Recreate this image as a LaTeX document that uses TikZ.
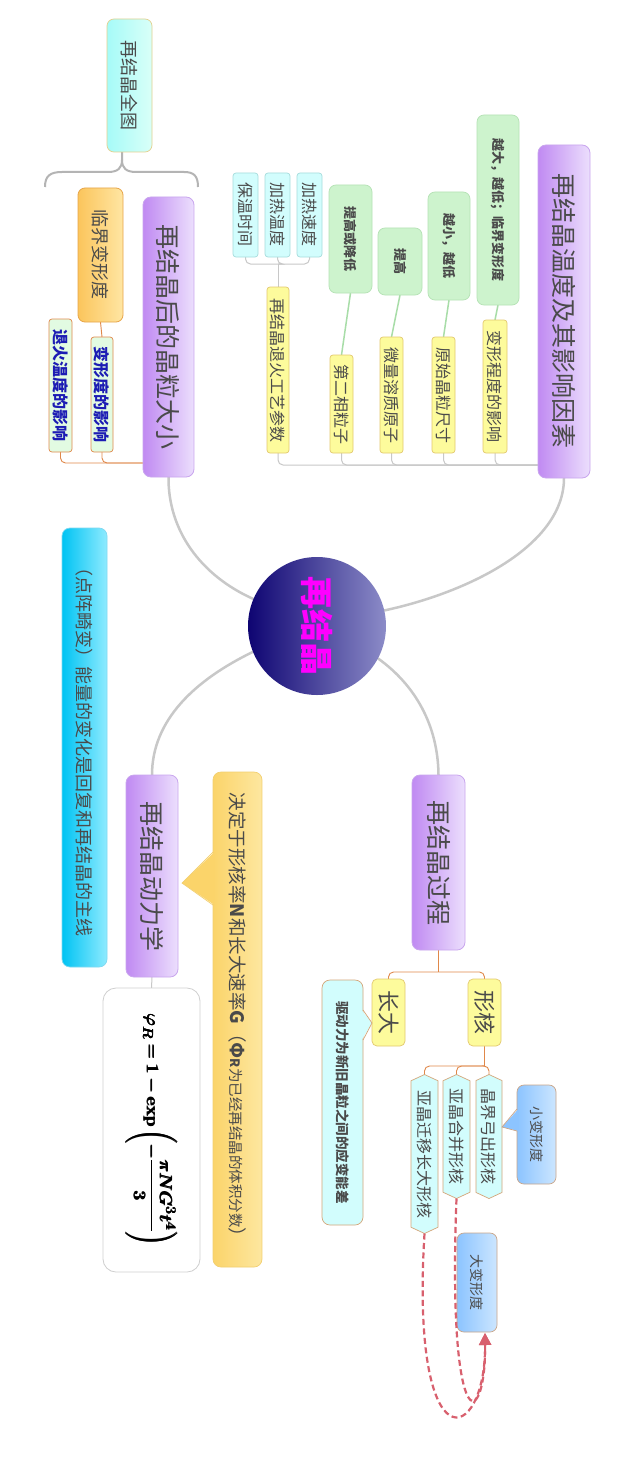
\documentclass[tikz,border=0pt]{standalone}
\usepackage{fontspec}
\setmainfont{Noto Sans CJK SC}
\usepackage{amsmath}
\usepackage{bm}
\usetikzlibrary{shapes.symbols,arrows.meta}
\pgfdeclarelayer{bg}
\pgfsetlayers{bg,main}
\newsavebox{\formbox}
\newcommand{\kctext}{决定于形核率\textbf{N}和长大速率\textbf{G}（\textbf{Φ}{\bfseries\fontsize{13}{15}\selectfont R}{\fontsize{14.5}{17}\selectfont 为已经再结晶的体积分数}）}
\definecolor{navyD}{HTML}{0E0472}
\definecolor{navyM}{HTML}{1A107E}
\definecolor{navyL}{HTML}{8C8CC8}
\definecolor{purpleD}{HTML}{C08AF2}
\definecolor{purpleL}{HTML}{ECDFFD}
\definecolor{purpleB}{HTML}{C9A6EE}
\definecolor{txt}{HTML}{4A4A4A}
\definecolor{yellowF}{HTML}{FDFB9C}
\definecolor{yellowB}{HTML}{E3C96E}
\definecolor{greenF}{HTML}{CDF3CD}
\definecolor{greenB}{HTML}{B5E2B5}
\definecolor{greenLn}{HTML}{A8DDA8}
\definecolor{cyanF}{HTML}{D2FDFD}
\definecolor{cyanB}{HTML}{A6DCDC}
\definecolor{allD}{HTML}{A6FBF8}
\definecolor{allL}{HTML}{D9FFF8}
\definecolor{allB}{HTML}{E3D18F}
\definecolor{orangeD}{HTML}{FBC55C}
\definecolor{orangeL}{HTML}{FFE6A3}
\definecolor{orangeB}{HTML}{E7A54A}
\definecolor{blueTxt}{HTML}{1C1CB4}
\definecolor{paleG}{HTML}{E2FBE2}
\definecolor{hexB}{HTML}{D4A679}
\definecolor{blueD}{HTML}{8CC4FF}
\definecolor{blueL}{HTML}{CCE6FF}
\definecolor{blueB}{HTML}{C9A588}
\definecolor{kcD}{HTML}{FBD46A}
\definecolor{kcL}{HTML}{FDE7A0}
\definecolor{kcB}{HTML}{F2CF70}
\definecolor{noteD}{HTML}{00C3F3}
\definecolor{noteL}{HTML}{8EEBFF}
\definecolor{noteB}{HTML}{7FD8F0}
\definecolor{lineO}{HTML}{E0884A}
\definecolor{lineG}{HTML}{C8C8C8}
\definecolor{braceG}{HTML}{B4B4B4}
\definecolor{formB}{HTML}{CFCFCF}
\definecolor{redD}{HTML}{D8606E}
\definecolor{magentaT}{HTML}{FF00FF}
\begin{document}
\sbox{\formbox}{\fontsize{19}{23}\selectfont$\pmb{\bm{\varphi_R=1-\mathbf{exp}\left(-\dfrac{\pi N G^3 t^4}{3}\right)}}$}%
\begin{tikzpicture}[x=1pt,y=-1pt,
  rot/.style={rotate=-90, align=center, inner sep=0pt, outer sep=0pt, text=txt},
  mainbox/.style={rot, rounded corners=8pt, draw=purpleB, line width=0.8pt, left color=purpleD, right color=purpleL, font=\fontsize{25}{30}\selectfont},
  ychild/.style={rot, rounded corners=3pt, draw=yellowB, line width=0.7pt, fill=yellowF, font=\fontsize{16}{19}\selectfont},
  gcall/.style={rot, rounded corners=7pt, draw=greenB, line width=0.7pt, fill=greenF, font=\fontsize{13}{16}\selectfont\bfseries},
  cchild/.style={rot, rounded corners=3pt, draw=cyanB, line width=0.7pt, fill=cyanF, font=\fontsize{16}{19}\selectfont},
  hexnode/.style={rot, shape=signal, signal to=east and west, signal pointer angle=130, draw=hexB, line width=0.7pt, fill=cyanF, font=\fontsize{16}{19}\selectfont},
  bluebox/.style={rot, rounded corners=7pt, draw=blueB, line width=0.7pt, left color=blueD, right color=blueL, font=\fontsize{14}{17}\selectfont},
  gline/.style={draw=lineG, line width=1pt, rounded corners=5pt},
  oline/.style={draw=lineO, line width=0.9pt, rounded corners=5pt},
  mline/.style={draw=lineG, line width=2.5pt, line cap=round},
  redline/.style={draw=redD, line width=2.2pt, dash pattern=on 6pt off 3.5pt, -{Triangle[length=12pt,width=12pt]}}
]
\begin{pgfonlayer}{bg}
\fill[white] (0,0) rectangle (638,1479);
\end{pgfonlayer}
\useasboundingbox (0,0) rectangle (638,1479);

% centre
\node[circle, minimum size=138pt, inner sep=0pt, left color=navyD, middle color=navyM, right color=navyL, text=magentaT] (ctr) at (317,626)
  {\rotatebox{-90}{\fontsize{33}{36}\selectfont\bfseries 再结晶}};

% top right branch
\node[mainbox, minimum width=333pt, minimum height=52pt] (trmain) at (564,311.5) {再结晶温度及其影响因素};
\node[ychild, minimum width=133pt, minimum height=24pt] (y1) at (495,386.5) {变形程度的影响};
\node[ychild, minimum width=116pt, minimum height=23pt] (y2) at (443.5,395) {原始晶粒尺寸};
\node[ychild, minimum width=116pt, minimum height=23pt] (y3) at (391.5,395) {微量溶质原子};
\node[ychild, minimum width=98pt, minimum height=23pt] (y4) at (341.5,404) {第二相粒子};
\node[ychild, minimum width=166pt, minimum height=22pt] (y5) at (278,370) {再结晶退火工艺参数};
\node[gcall, minimum width=190pt, minimum height=42pt] (g1) at (498,210) {越大，越低；临界变形度};
\node[gcall, minimum width=108pt, minimum height=42pt] (g2) at (449,246) {越小，越低};
\node[gcall, minimum width=67pt, minimum height=44pt] (g3) at (400,261.5) {提高};
\node[gcall, minimum width=108pt, minimum height=43pt] (g4) at (350.5,239) {提高或降低};
\node[cchild, minimum width=84pt, minimum height=25pt] (c1) at (309.5,215) {加热速度};
\node[cchild, minimum width=84pt, minimum height=25pt] (c2) at (277.5,215) {加热温度};
\node[cchild, minimum width=84pt, minimum height=25pt] (c3) at (245.5,215) {保温时间};

% top left branch
\node[mainbox, minimum width=280pt, minimum height=51pt] (tlmain) at (168.5,337) {再结晶后的晶粒大小};
\node[rot, rounded corners=7pt, draw=orangeB, line width=0.8pt, left color=orangeD, right color=orangeL, minimum width=134pt, minimum height=45pt, font=\fontsize{18}{21}\selectfont] (o1) at (100.5,255) {临界变形度};
\node[rot, rounded corners=3pt, draw=lineO, line width=0.7pt, fill=paleG, text=blueTxt, minimum width=115pt, minimum height=22pt, font=\fontsize{16}{19}\selectfont\bfseries] (b1) at (102,394.5) {变形度的影响};
\node[rot, rounded corners=3pt, draw=lineO, line width=0.7pt, fill=paleG, text=blueTxt, minimum width=133pt, minimum height=23pt, font=\fontsize{16}{19}\selectfont\bfseries] (b2) at (60.5,385.5) {退火温度的影响};
\node[rot, rounded corners=7pt, draw=allB, line width=0.7pt, left color=allD, right color=allL, minimum width=133pt, minimum height=45pt, font=\fontsize{18}{21}\selectfont] (all) at (129.5,85.5) {再结晶全图};

% bottom right branch
\node[mainbox, minimum width=175pt, minimum height=53pt] (brmain) at (438.5,862.5) {再结晶过程};
\node[ychild, rounded corners=5pt, minimum width=67pt, minimum height=33pt, font=\fontsize{22}{25}\selectfont] (xh) at (484.5,1012.5) {形核};
\node[ychild, rounded corners=5pt, minimum width=67pt, minimum height=33pt, font=\fontsize{22}{25}\selectfont] (zd) at (388.5,1012.5) {长大};
\node[hexnode, minimum width=124pt, minimum height=26pt] (h1) at (489,1136.5) {晶界弓出形核};
\node[hexnode, minimum width=124pt, minimum height=27pt] (h2) at (456.5,1136.5) {亚晶合并形核};
\node[hexnode, minimum width=159pt, minimum height=27pt] (h3) at (424.5,1154) {亚晶迁移长大形核};
\node[bluebox, minimum width=99pt, minimum height=39pt] (sm) at (536.5,1134.5) {小变形度};
\node[bluebox, minimum width=99pt, minimum height=40pt] (bg) at (477,1282.5) {大变形度};
\node[rot, rounded corners=8pt, draw=hexB, line width=0.7pt, fill=cyanF, minimum width=245pt, minimum height=41pt, font=\fontsize{13.5}{16}\selectfont\bfseries] (qd) at (342.5,1102.5) {驱动力为新旧晶粒之间的应变能差};
\coordinate (bgin) at (485,1333);

% bottom left branch
\node[mainbox, minimum width=202pt, minimum height=52pt] (blmain) at (152,876) {再结晶动力学};
\node[rot, rounded corners=8pt, draw=kcB, line width=0.7pt, left color=kcD, right color=kcL, minimum width=495pt, minimum height=49pt, font=\fontsize{18.5}{22}\selectfont] (kc) at (237.5,1019.5) {\kctext};
\node[rot, rounded corners=13pt, draw=formB, line width=0.8pt, fill=white, minimum width=284pt, minimum height=97pt] (fbox) at (151.5,1130) {\usebox{\formbox}};
\node[rot, rounded corners=8pt, draw=noteB, line width=0.7pt, left color=noteD, right color=noteL, minimum width=439pt, minimum height=45pt, font=\fontsize{18}{21}\selectfont] (note) at (84.5,747.5) {（点阵畸变）能量的变化是回复和再结晶的主线};

% callout wedges
\fill[blueD] (518.5,1109) -- (502,1127) -- (518.5,1131) -- cycle;
\draw[blueB, line width=0.7pt] (517,1109) -- (502,1127) -- (517,1131);
\fill[cyanF] (361.5,1010) -- (372,1023) -- (361.5,1040) -- cycle;
\draw[hexB, line width=0.7pt] (363,1010) -- (372,1023) -- (363,1040);
\fill[kcD] (214.5,852) -- (182,883) -- (214.5,905) -- cycle;
\draw[kcB, line width=0.7pt] (213,852) -- (182,883) -- (213,905);

\begin{pgfonlayer}{bg}
% main connectors
\draw[mline] (ctr.13) .. controls (470,592) and (564,545) .. (trmain.east);
\draw[mline] (ctr.157) .. controls (200,575) and (168,530) .. (tlmain.east);
\draw[mline] (ctr.332) .. controls (415,685) and (438,725) .. (brmain.west);
\draw[mline] (ctr.202) .. controls (195,680) and (152,720) .. (blmain.west);
% top right bracket
\coordinate (trb) at (538,465);
\foreach \n in {y1,y2,y3,y4,y5} {\draw[gline] (\n.east) |- (trb);}
\coordinate (cb) at (278,264);
\draw[gline] (y5.west) -- (cb);
\foreach \n in {c1,c2,c3} {\draw[gline] (\n.east) |- (cb);}
\draw[greenLn, line width=1.5pt] (g1.east) -- (y1.west);
\draw[greenLn, line width=1.5pt] (g2.east) -- (y2.west);
\draw[greenLn, line width=1.5pt] (g3.east) -- (y3.west);
\draw[greenLn, line width=1.5pt] (g4.east) -- (y4.west);
% top left
\coordinate (tlb) at (143,463);
\draw[oline] (b1.east) |- (tlb);
\draw[oline] (b2.east) |- (tlb);
\draw[oline] (o1.east) -- (b1.west);
\draw[braceG, line width=2pt] (45,187) .. controls (45,176) and (50,172) .. (62,172) -- (108,172) .. controls (118,172) and (122,168) .. (122,160) -- (122,152);
\draw[braceG, line width=2pt] (122,160) .. controls (122,168) and (126,172) .. (136,172) -- (184,172) .. controls (194,172) and (198,176) .. (198,187);
% bottom right
\coordinate (br1) at (438.5,972);
\draw[oline] (brmain.east) -- (br1);
\draw[oline] (br1) -| (xh.west);
\draw[oline] (br1) -| (zd.west);
\coordinate (br2) at (484.5,1066);
\draw[oline] (xh.east) -- (br2);
\draw[oline] (br2) -| (h1.west);
\draw[oline] (br2) -| (h2.west);
\draw[oline] (br2) -| (h3.west);
% bottom left
\draw[gline] (blmain.east) -- (fbox.west);
\end{pgfonlayer}

% red dashed links
\draw[redline] (h2.east) .. controls (447,1445) and (486,1430) .. (bgin);
\draw[redline] (h3.east) .. controls (410,1470) and (486,1445) .. (bgin);
\end{tikzpicture}
\end{document}
